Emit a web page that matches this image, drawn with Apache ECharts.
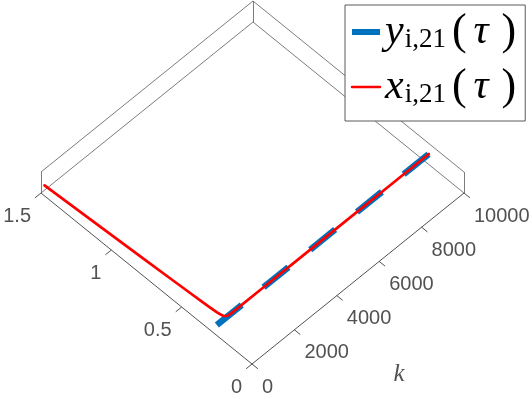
<!DOCTYPE html>
<html>
<head>
<meta charset="utf-8">
<script src="https://cdn.jsdelivr.net/npm/echarts@6/dist/echarts.min.js"></script>
<style>
  html, body { margin: 0; padding: 0; background: #fff; }
  #chart { width: 532px; height: 399px; }
</style>
</head>
<body>
<div id="chart"></div>
<script>
// --- data ---
const kSteps = [0, 50, 100, 150, 200, 250, 300, 325, 350, 375, 400, 425, 450, 500, 600, 800, 1000, 2000, 4000, 6000, 8000, 10000]
const xTau = [1.475, 1.31, 1.14, 0.97, 0.8, 0.64, 0.49, 0.415, 0.35, 0.305, 0.28, 0.266, 0.259, 0.254, 0.251, 0.25, 0.25, 0.25, 0.25, 0.25, 0.25, 0.25]
const yKSteps = [0, 2000, 4000, 6000, 8000, 10000]
const yTau = [0.25, 0.25, 0.25, 0.25, 0.25, 0.25]
const kTicks = [0, 2000, 4000, 6000, 8000, 10000]
const kTickLabels = ['0', '2000', '4000', '6000', '8000', '10000']
const vTicks = [0, 0.5, 1, 1.5]
const vTickLabels = ['0', '0.5', '1', '1.5']

// --- 3D box and view (oblique projection onto the page) ---
const kRange = [0, 10000]
const vRange = [0, 1.5]
const zRange = [0, 1]
const zPlane = 0.5
const view = {origin: [252, 364], kVec: [212, -171], vVec: [-211, -171], zVec: [0, -21]}
const tickFrac = 0.028
const axisColor = '#262626'
const boxColor = '#5a5a5a'

function project(k, v, z) {
  const a = (k - kRange[0]) / (kRange[1] - kRange[0])
  const b = (v - vRange[0]) / (vRange[1] - vRange[0])
  const c = (z - zRange[0]) / (zRange[1] - zRange[0])
  return [
    view.origin[0] + a * view.kVec[0] + b * view.vVec[0] + c * view.zVec[0],
    view.origin[1] + a * view.kVec[1] + b * view.vVec[1] + c * view.zVec[1]
  ]
}

const k0 = kRange[0], k1 = kRange[1], v0 = vRange[0], v1 = vRange[1], z0 = zRange[0], z1 = zRange[1]
const boxEdges = [
  [[k0, v1, z0], [k1, v1, z0]], [[k1, v1, z0], [k1, v0, z0]],
  [[k0, v1, z1], [k1, v1, z1]], [[k1, v1, z1], [k1, v0, z1]],
  [[k0, v1, z0], [k0, v1, z1]], [[k1, v1, z0], [k1, v1, z1]], [[k1, v0, z0], [k1, v0, z1]]
]
const axisEdges = [
  [[k0, v0, z0], [k0, v1, z0]], [[k0, v0, z0], [k1, v0, z0]]
]
const kLen = (k1 - k0) * tickFrac
const vLen = (v1 - v0) * tickFrac
const tickEdges = vTicks.map(v => [[k0, v, z0], [k0 - kLen, v, z0]])
  .concat(kTicks.map(k => [[k, v0, z0], [k, v0 - vLen, z0]]))

const toLines = edges => edges.map(e => ({coords: e.map(p => project(p[0], p[1], p[2]))}))

const chart = echarts.init(document.getElementById('chart'), null, {renderer: 'canvas'})

const mathRich = {
  v: {fontFamily: 'Liberation Serif', fontStyle: 'italic', fontSize: 42, color: '#000'},
  s: {fontFamily: 'Liberation Serif', fontSize: 27, color: '#000', padding: [16, 0, 0, 1]},
  p: {fontFamily: 'Liberation Serif', fontSize: 44, color: '#000', padding: [0, 0, 0, 6]},
  t: {fontFamily: 'Liberation Serif', fontStyle: 'italic', fontSize: 42, color: '#000', padding: [0, 7, 0, 7]}
}

const option = {
  animation: false,
  grid: {left: 0, right: 0, top: 0, bottom: 0},
  xAxis: {type: 'value', min: 0, max: 532, show: false},
  yAxis: {type: 'value', min: 0, max: 399, inverse: true, show: false},
  legend: {
    orient: 'vertical',
    left: 345,
    top: 5,
    padding: [5, 9, 12, 4],
    itemGap: 11,
    itemWidth: 28,
    itemHeight: 14,
    backgroundColor: '#fff',
    borderColor: boxColor,
    borderWidth: 1,
    borderRadius: 0,
    data: [
      {name: 'y', lineStyle: {width: 6, type: 'solid'}, itemStyle: {opacity: 0, borderWidth: 0}},
      {name: 'x', lineStyle: {width: 2.5, type: 'solid'}, itemStyle: {opacity: 0, borderWidth: 0}}
    ],
    formatter: name => '{v|' + name + '}{s|i,21}{p|(}{t|τ}{p|)}',
    textStyle: {rich: mathRich}
  },
  series: [
    {
      type: 'lines',
      coordinateSystem: 'cartesian2d',
      silent: true,
      z: 1,
      lineStyle: {color: boxColor, width: 0.8, opacity: 1},
      data: toLines(boxEdges)
    },
    {
      type: 'lines',
      coordinateSystem: 'cartesian2d',
      silent: true,
      z: 1,
      lineStyle: {color: axisColor, width: 0.8, opacity: 1},
      data: toLines(axisEdges.concat(tickEdges))
    },
    {
      name: 'y',
      type: 'line',
      z: 3,
      showSymbol: false,
      symbol: 'none',
      data: yKSteps.map((k, i) => project(k, yTau[i], zPlane)),
      lineStyle: {color: '#0072BD', width: 6.5, type: [32, 28], cap: 'butt'},
      itemStyle: {color: '#0072BD'}
    },
    {
      name: 'x',
      type: 'line',
      z: 4,
      showSymbol: false,
      symbol: 'none',
      data: kSteps.map((k, i) => project(k, xTau[i], zPlane)),
      lineStyle: {color: '#FF0000', width: 2.7, cap: 'round', join: 'round'},
      itemStyle: {color: '#FF0000'}
    },
    {
      type: 'scatter',
      silent: true,
      symbolSize: 0,
      z: 5,
      data: vTicks.map((v, i) => ({name: vTickLabels[i], value: project(k0, v, z0)})),
      label: {
        show: true, position: 'inside', formatter: '{b}', align: 'right', verticalAlign: 'middle',
        offset: [-10, 23], fontFamily: 'Liberation Sans', fontSize: 20, color: axisColor
      }
    },
    {
      type: 'scatter',
      silent: true,
      symbolSize: 0,
      z: 5,
      data: kTicks.map((k, i) => ({name: kTickLabels[i], value: project(k, v0, z0)})),
      label: {
        show: true, position: 'inside', formatter: '{b}', align: 'left', verticalAlign: 'middle',
        offset: [10, 23], fontFamily: 'Liberation Sans', fontSize: 20, color: axisColor
      }
    },
    {
      type: 'scatter',
      silent: true,
      symbolSize: 0,
      z: 5,
      data: [{name: 'k', value: project((k0 + k1) / 2, v0, z0)}],
      label: {
        show: true, position: 'inside', formatter: '{b}', align: 'center', verticalAlign: 'middle',
        offset: [41, 96], fontFamily: 'Liberation Serif', fontStyle: 'italic', fontSize: 25, color: axisColor
      }
    }
  ]
}

chart.setOption(option)
</script>
</body>
</html>
